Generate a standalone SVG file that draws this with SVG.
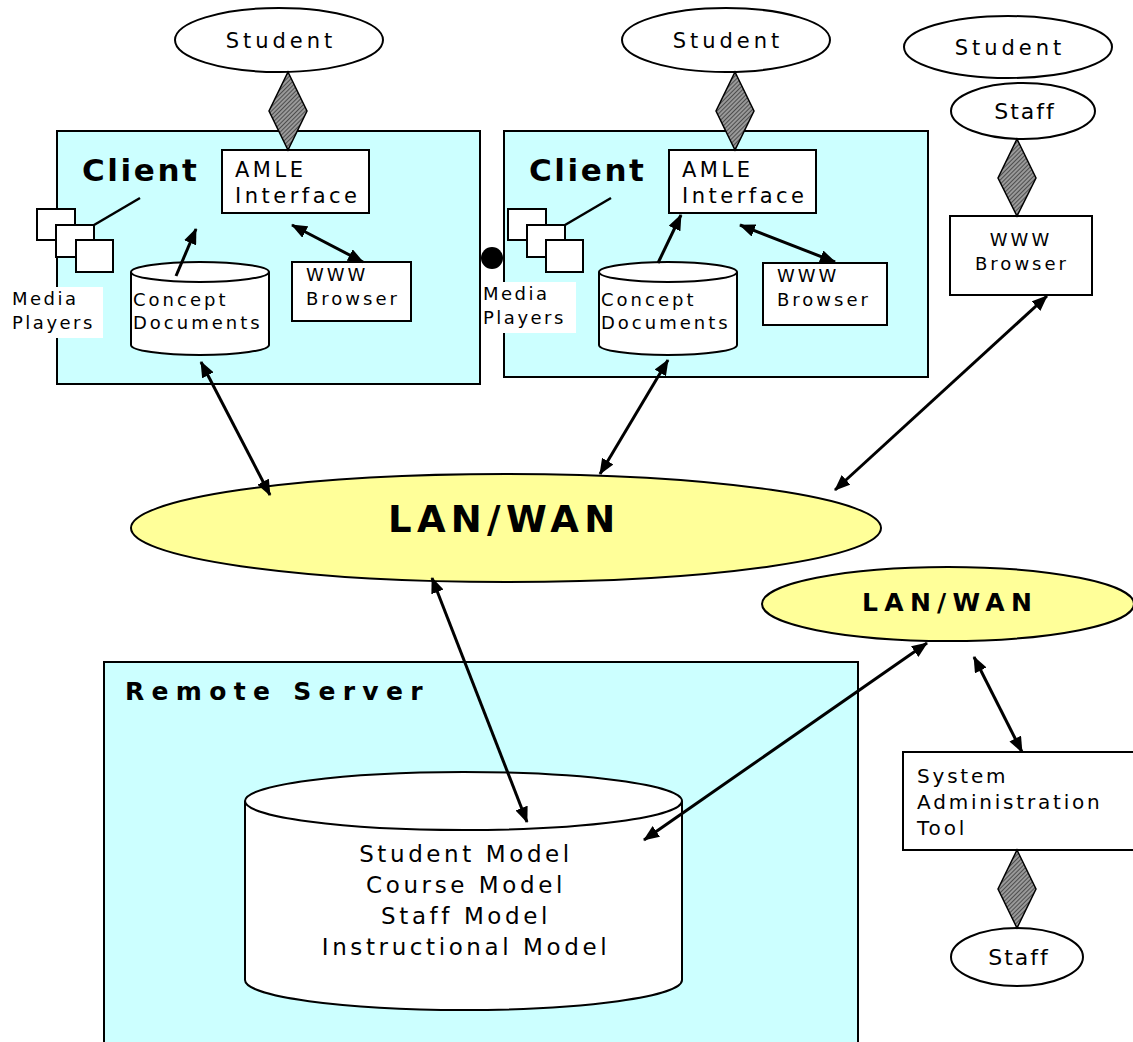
<svg xmlns="http://www.w3.org/2000/svg" width="1133" height="1042" viewBox="0 0 1133 1042">
<style>
text{font-family:"DejaVu Sans","Verdana",sans-serif;fill:#000}
.box{fill:#fff;stroke:#000;stroke-width:2}
.cont{fill:#ccffff;stroke:#000;stroke-width:2}
.ell{fill:#fff;stroke:#000;stroke-width:2}
.lan{fill:#ffff99;stroke:#000;stroke-width:2}
.dia{fill:url(#hatch);stroke:#000;stroke-width:1.5}
.con{stroke:#000;stroke-width:3;fill:none}
.bi{marker-start:url(#ah);marker-end:url(#ah)}
.one{marker-end:url(#ah)}
.s18{font-size:18px;letter-spacing:3px}
.s21{font-size:21px;letter-spacing:3.5px}
</style>
<defs>
<pattern id="hatch" width="3" height="3" patternUnits="userSpaceOnUse" patternTransform="rotate(45)">
<rect width="3" height="3" fill="#999"/>
<line x1="0" y1="0" x2="0" y2="3" stroke="#333" stroke-width="1.5"/>
</pattern>
<marker id="ah" viewBox="0 0 16 13" refX="15" refY="6.5" markerWidth="16" markerHeight="13" markerUnits="userSpaceOnUse" orient="auto-start-reverse">
<path d="M0,0 L16,6.5 L0,13 z" fill="#000"/>
</marker>
</defs>

<g id="client1">
<rect class="cont" x="57" y="131" width="423" height="253"/>
<text x="82" y="181" font-size="31" font-weight="bold" letter-spacing="2.6">Client</text>
</g>
<g id="client2">
<rect class="cont" x="504" y="131" width="424" height="246"/>
<text x="529" y="181" font-size="31" font-weight="bold" letter-spacing="2.6">Client</text>
</g>
<g id="server">
<rect class="cont" x="104" y="662" width="754" height="385"/>
<text x="125" y="700" font-size="25" font-weight="bold" letter-spacing="7.3">Remote Server</text>
</g>

<g id="student1">
<ellipse class="ell" cx="279" cy="40" rx="104" ry="32"/>
<text x="281" y="48" font-size="21" letter-spacing="4" text-anchor="middle">Student</text>
</g>
<g id="student2">
<ellipse class="ell" cx="726" cy="40" rx="104" ry="32"/>
<text x="728" y="48" font-size="21" letter-spacing="4" text-anchor="middle">Student</text>
</g>
<g id="student3">
<ellipse class="ell" cx="1008" cy="47" rx="104" ry="31"/>
<text x="1010" y="55" font-size="21" letter-spacing="4" text-anchor="middle">Student</text>
</g>
<g id="staff1">
<ellipse class="ell" cx="1023" cy="111" rx="72" ry="28"/>
<text x="1025" y="119" font-size="22" letter-spacing="2" text-anchor="middle">Staff</text>
</g>
<g id="staff2">
<ellipse class="ell" cx="1017" cy="957" rx="66" ry="29"/>
<text x="1019" y="965" font-size="22" letter-spacing="2" text-anchor="middle">Staff</text>
</g>

<g id="amle1">
<rect class="box" x="222" y="150" width="147" height="63"/>
<text class="s21" x="235" y="177">AMLE</text>
<text class="s21" x="235" y="203">Interface</text>
</g>
<g id="amle2">
<rect class="box" x="669" y="150" width="147" height="63"/>
<text class="s21" x="682" y="177">AMLE</text>
<text class="s21" x="682" y="203">Interface</text>
</g>
<g id="www1">
<rect class="box" x="292" y="262" width="119" height="59"/>
<text class="s18" x="306" y="281">WWW</text>
<text class="s18" x="306" y="305">Browser</text>
</g>
<g id="www2">
<rect class="box" x="763" y="263" width="124" height="62"/>
<text class="s18" x="777" y="282">WWW</text>
<text class="s18" x="777" y="306">Browser</text>
</g>
<g id="www3">
<rect class="box" x="950" y="216" width="142" height="79"/>
<text class="s18" x="1021" y="246" text-anchor="middle">WWW</text>
<text class="s18" x="1022" y="270" text-anchor="middle">Browser</text>
</g>

<g id="concept1">
<path class="ell" d="M131,272 A69,10 0 0 1 269,272 L269,345 A69,10 0 0 1 131,345 Z"/>
<path d="M131,272 A69,10 0 0 0 269,272" fill="none" stroke="#000" stroke-width="2"/>
<text class="s18" x="133" y="306">Concept</text>
<text class="s18" x="133" y="329">Documents</text>
</g>
<g id="concept2">
<path class="ell" d="M599,272 A69,10 0 0 1 737,272 L737,345 A69,10 0 0 1 599,345 Z"/>
<path d="M599,272 A69,10 0 0 0 737,272" fill="none" stroke="#000" stroke-width="2"/>
<text class="s18" x="601" y="306">Concept</text>
<text class="s18" x="601" y="329">Documents</text>
</g>

<g id="media1">
<rect class="box" x="37" y="209" width="38" height="31"/>
<rect class="box" x="56" y="225" width="38" height="32"/>
<rect class="box" x="76" y="240" width="37" height="32"/>
<line x1="94" y1="225" x2="140" y2="198" stroke="#000" stroke-width="2.5"/>
<rect x="10" y="287" width="93" height="51" fill="#fff"/>
<text x="12" y="305" font-size="18" letter-spacing="2.5">Media</text>
<text x="12" y="329" font-size="18" letter-spacing="2.5">Players</text>
</g>
<g id="media2">
<rect class="box" x="508" y="209" width="38" height="31"/>
<rect class="box" x="527" y="225" width="38" height="32"/>
<rect class="box" x="546" y="240" width="37" height="32"/>
<line x1="565" y1="225" x2="611" y2="198" stroke="#000" stroke-width="2.5"/>
<rect x="481" y="282" width="95" height="51" fill="#fff"/>
<text x="483" y="300" font-size="18" letter-spacing="2.5">Media</text>
<text x="483" y="324" font-size="18" letter-spacing="2.5">Players</text>
<circle cx="492" cy="258" r="11" fill="#000"/>
</g>

<g id="lan1">
<ellipse class="lan" cx="506" cy="528" rx="375" ry="54"/>
<text x="388" y="532" font-size="37" font-weight="bold" letter-spacing="5.3">LAN/WAN</text>
</g>
<g id="lan2">
<ellipse class="lan" cx="948" cy="604" rx="186" ry="37"/>
<text x="862" y="611" font-size="25" font-weight="bold" letter-spacing="6.3">LAN/WAN</text>
</g>

<g id="sysadmin">
<rect class="box" x="903" y="752" width="240" height="98"/>
<text x="917" y="783" font-size="20" letter-spacing="2.8">System</text>
<text x="917" y="809" font-size="20" letter-spacing="2.8">Administration</text>
<text x="917" y="835" font-size="20" letter-spacing="2.8">Tool</text>
</g>

<g id="database">
<path class="ell" d="M245,801 A218,29 0 0 1 682,801 L682,980 A218,30 0 0 1 245,980 Z"/>
<path d="M245,801 A218,29 0 0 0 682,801" fill="none" stroke="#000" stroke-width="2"/>
<text x="466" y="862" font-size="23" letter-spacing="3.6" text-anchor="middle">Student Model</text>
<text x="466" y="893" font-size="23" letter-spacing="3.6" text-anchor="middle">Course Model</text>
<text x="466" y="924" font-size="23" letter-spacing="3.6" text-anchor="middle">Staff Model</text>
<text x="466" y="955" font-size="23" letter-spacing="3.6" text-anchor="middle">Instructional Model</text>
</g>

<g id="diamonds">
<polygon class="dia" points="288,72 307,111 288,150 269,111"/>
<polygon class="dia" points="735,72 754,111 735,150 716,111"/>
<polygon class="dia" points="1017,139 1036,178 1017,216 998,178"/>
<polygon class="dia" points="1017,850 1036,889 1017,928 998,889"/>
</g>

<g id="connectors">
<line class="con one" x1="176" y1="276" x2="196" y2="229"/>
<line class="con bi" x1="292" y1="225" x2="363" y2="262"/>
<line class="con one" x1="658" y1="263" x2="681" y2="215"/>
<line class="con bi" x1="740" y1="225" x2="835" y2="262"/>
<line class="con bi" x1="201" y1="362" x2="270" y2="495"/>
<line class="con bi" x1="668" y1="360" x2="600" y2="474"/>
<line class="con bi" x1="1047" y1="296" x2="835" y2="490"/>
<line class="con bi" x1="432" y1="578" x2="527" y2="822"/>
<line class="con bi" x1="927" y1="643" x2="644" y2="840"/>
<line class="con bi" x1="974" y1="657" x2="1022" y2="752"/>
</g>
</svg>
